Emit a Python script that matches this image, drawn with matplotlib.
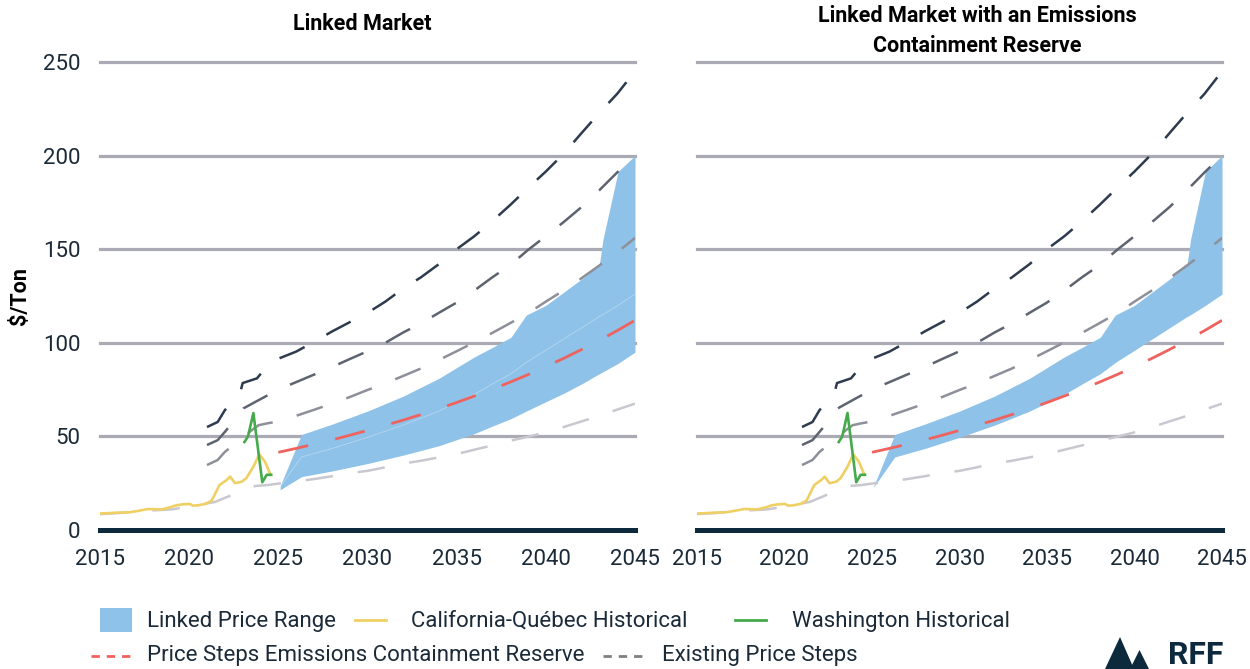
import matplotlib
matplotlib.use('Agg')
import matplotlib.pyplot as plt
from matplotlib.lines import Line2D
from matplotlib.patches import Rectangle, Polygon

plt.rcParams['font.family'] = ['Roboto', 'DejaVu Sans']

# --- data ---
# existing price steps (four tiers), fractional years
step1_x = [2021.0, 2021.6, 2022.0, 2022.85, 2023.0, 2023.8, 2024.6, 2025, 2026, 2027, 2028, 2029, 2030,
           2031, 2032, 2033, 2034, 2035, 2036, 2037, 2038, 2039, 2040, 2041, 2042, 2043, 2044, 2045]
step1_y = [55, 57.7, 64, 73, 78.5, 81, 90, 91.5, 95.3, 100.5, 106, 111, 116,
           122, 129, 135, 142, 150, 157, 165, 173.6, 182.7, 191.5, 201, 212, 222.8, 233, 245]

step2_x = [2021.0, 2021.6, 2022.0, 2022.9, 2023.05, 2023.9, 2025, 2026, 2027, 2028, 2029, 2030,
           2031, 2032, 2033, 2034, 2035, 2036, 2037, 2038, 2039, 2040, 2041, 2042, 2043, 2044, 2045]
step2_y = [45.4, 48, 52.4, 62.5, 65, 69.4, 75, 79, 83, 87, 91.3, 95.5,
           100, 105.5, 110.4, 116, 121.5, 128, 135, 141.5, 149.6, 157, 164.5, 172.5, 181.5, 191, 200]

step3_x = [2021.0, 2021.6, 2022.0, 2023.6, 2023.9, 2024.4, 2025, 2026, 2027, 2028, 2029, 2030,
           2031, 2032, 2033, 2034, 2035, 2036, 2037, 2038, 2039, 2040, 2041, 2042, 2043, 2044, 2045]
step3_y = [34.7, 37.4, 41.7, 54, 56, 57, 58, 61, 64.2, 67.5, 71, 74.8,
           78.3, 82.3, 86.3, 90.8, 95.5, 100.3, 105.3, 110.5, 115.8, 122, 128, 134.5, 141.3, 148.3, 156]

step4_x = [2015, 2016, 2017, 2018, 2019, 2020, 2021.45, 2022.4, 2023.0, 2023.7, 2024.4, 2025, 2026, 2027,
           2028, 2029, 2030, 2031, 2032, 2033, 2034, 2035, 2036, 2037, 2038, 2039, 2040, 2041, 2042,
           2043, 2044, 2045]
step4_y = [8.5, 9, 10, 10.5, 11, 12.4, 15, 18.7, 20.5, 23.5, 24, 24.8, 26, 27.2,
           28.7, 30.4, 31.6, 33.5, 35.5, 37, 38.8, 40.6, 42.9, 45.2, 47.7, 49.8, 52.2, 55, 58,
           61, 64.3, 67.5]

# price steps with emissions containment reserve
ecr_years = [2025, 2026, 2027, 2028, 2029, 2030, 2031, 2032, 2033, 2034, 2035,
             2036, 2037, 2038, 2039, 2040, 2041, 2042, 2043, 2044, 2045]
ecr_price = [41.5, 43.6, 45.8, 48.1, 50.6, 53.2, 55.9, 58.7, 61.7, 64.8, 68.1,
             71.6, 75.2, 79.0, 83.0, 87.3, 91.7, 96.4, 101.3, 106.5, 112]

# California-Quebec historical
caq_x = [2015.0, 2015.5, 2016.0, 2016.6, 2017.0, 2017.7, 2018.45, 2019.0, 2019.2, 2019.6, 2020.05,
         2020.2, 2020.5, 2020.9, 2021.26, 2021.7, 2022.1, 2022.3, 2022.57, 2022.95, 2023.2,
         2023.6, 2023.93, 2024.25, 2024.57]
caq_y = [8.8, 9.0, 9.3, 9.4, 10, 11.2, 11, 12.3, 13, 13.7, 13.9,
         13, 13.2, 13.9, 15.7, 24, 26.7, 28.5, 25, 25.8, 27.6,
         33.8, 40.4, 36.5, 29.4]

# Washington historical
wa_x = [2023.1, 2023.3, 2023.6, 2024.1, 2024.35, 2024.6]
wa_y = [47, 50, 62.5, 25.5, 29.5, 29.5]

# linked price range (lower / middle / upper edges)
band_x = [2025.1, 2026.3, 2028, 2030, 2032, 2034, 2036, 2037, 2038.05, 2038.9, 2040, 2041, 2042,
          2043.0, 2043.2, 2044.05, 2045]
band_lo = [21.5, 28.5, 31.5, 35.5, 40, 45, 51.5, 55.5, 59.5, 63.5, 68.5, 73, 78,
           83.5, 84.5, 89, 95]
band_mid = [23, 39, 43.5, 49.5, 56, 63.5, 72.5, 78, 83.5, 89.5, 96, 102, 108,
            114, 115, 120, 126]
band_hi = [23.5, 51, 56.5, 63.5, 71.5, 81, 92.5, 97.5, 103, 114.8, 120, 127, 134,
           141.6, 155, 191.5, 200]

xticks = [2015, 2020, 2025, 2030, 2035, 2040, 2045]
yticks = [0, 50, 100, 150, 200, 250]

# --- styles ---
navy = '#0d2a3d'
txt = '#1b2a38'
grid_c = '#a9aab4'
band_c = '#8ec2e8'
step_cols = ['#2e3b4e', '#5d6470', '#8e9099', '#c9c8d0']
red = '#f0625e'
yellow = '#efd065'
green = '#45aa4b'
dash = (0, (11, 10))

fig = plt.figure(figsize=(12.5, 6.69), dpi=100)
ax1 = fig.add_axes([100/1250, 139/669, 535/1250, 468/669])
ax2 = fig.add_axes([697/1250, 139/669, 525/1250, 468/669])

steps = [(step1_x, step1_y), (step2_x, step2_y), (step3_x, step3_y), (step4_x, step4_y)]

for k, ax in enumerate([ax1, ax2]):
    for t in yticks[1:]:
        ax.axhline(t, color=grid_c, lw=2.3, zorder=1, clip_on=False)
    ax.axhline(0, color=navy, lw=3.6, zorder=6, clip_on=False)
    if k == 0:
        ax.fill_between(band_x, band_lo, band_hi, color=band_c, lw=0, zorder=2)
        ax.plot(band_x, band_mid, color='white', lw=0.6, alpha=0.35, zorder=2.5)
    else:
        ax.fill_between(band_x, band_mid, band_hi, color=band_c, lw=0, zorder=2)
    for (sx, sy), c in zip(steps, step_cols):
        ax.plot(sx, sy, color=c, lw=1.8, linestyle=dash, zorder=3)
    ax.plot(ecr_years, ecr_price, color=red, lw=2.0, linestyle=dash, zorder=4)
    ax.plot(caq_x, caq_y, color=yellow, lw=1.9, zorder=5)
    ax.plot(wa_x, wa_y, color=green, lw=1.9, zorder=5)

    ax.set_xlim(2015, 2045)
    ax.set_ylim(0, 250)
    ax.set_xticks(xticks)
    ax.set_yticks(yticks)
    ax.tick_params(length=0, labelsize=16, colors=txt, pad=14)
    for s in ax.spines.values():
        s.set_visible(False)
    if k == 1:
        ax.set_yticklabels([])

fig.text(20/1250, 1 - 296/669, r'\$/Ton', rotation=90, ha='center', va='center',
         fontsize=15.5, fontweight='bold', color='black')

fig.text(362/1250, 1 - 24/669, 'Linked Market', ha='center', va='center',
         fontsize=15.5, fontweight='bold', color='black')
fig.text(977/1250, 1 - 31/669, 'Linked Market with an Emissions\nContainment Reserve',
         ha='center', va='center', fontsize=15.5, fontweight='bold', color='black',
         linespacing=1.45)

# legend
def fx(px):
    return px / 1250

def fy(py):
    return 1 - py / 669

fs = 16
fig.add_artist(Rectangle((fx(100), fy(632)), 32/1250, 24/669, transform=fig.transFigure,
                         facecolor=band_c, edgecolor='none'))
fig.text(fx(147), fy(621), 'Linked Price Range', fontsize=fs, color=txt, va='center')
fig.add_artist(Line2D([fx(355), fx(386)], [fy(620), fy(620)], transform=fig.transFigure,
                      color=yellow, lw=2))
fig.text(fx(411), fy(621), 'California-Québec Historical', fontsize=fs, color=txt, va='center')
fig.add_artist(Line2D([fx(735), fx(766)], [fy(620), fy(620)], transform=fig.transFigure,
                      color=green, lw=2))
fig.text(fx(792), fy(621), 'Washington Historical', fontsize=fs, color=txt, va='center')

fig.add_artist(Line2D([fx(91), fx(131)], [fy(656), fy(656)], transform=fig.transFigure,
                      color=red, lw=2, linestyle=(0, (3, 2.5))))
fig.text(fx(147), fy(656), 'Price Steps Emissions Containment Reserve', fontsize=fs,
         color=txt, va='center')
fig.add_artist(Line2D([fx(603), fx(642)], [fy(656), fy(656)], transform=fig.transFigure,
                      color='#808080', lw=2, linestyle=(0, (3, 2.5))))
fig.text(fx(662), fy(656), 'Existing Price Steps', fontsize=fs, color=txt, va='center')

# RFF logo
fig.add_artist(Polygon([(fx(1105), fy(669)), (fx(1120), fy(637)), (fx(1134), fy(669))],
                       closed=True, transform=fig.transFigure, facecolor=navy, edgecolor='none'))
fig.add_artist(Polygon([(fx(1130), fy(669)), (fx(1139.5), fy(650)), (fx(1149), fy(669))],
                       closed=True, transform=fig.transFigure, facecolor=navy, edgecolor='none'))
fig.text(fx(1168), fy(664), 'RFF', fontsize=23, fontweight='bold', color=navy, va='baseline')

fig.savefig('out.png', dpi=100)
